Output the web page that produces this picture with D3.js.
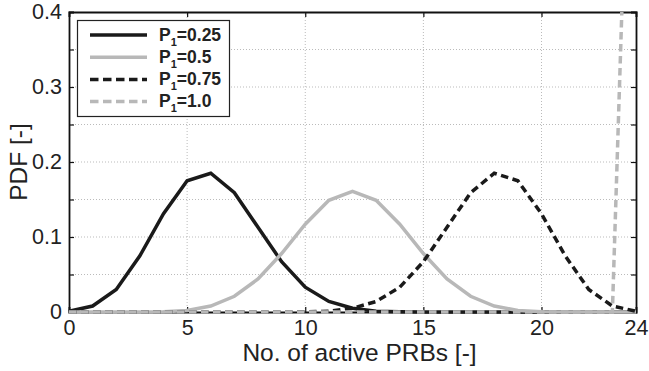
<!DOCTYPE html>
<html><head><meta charset="utf-8">
<script src="https://cdn.jsdelivr.net/npm/d3@7"></script>
<style>body{margin:0;background:#fff;} svg{display:block;}</style>
</head><body>
<script>
const kValues = d3.range(0, 25);
const pdf025 = [0.001,0.008,0.030,0.075,0.131,0.175,0.185,0.159,0.113,0.067,0.033,0.014,0.005,0.001,0.0003,0,0,0,0,0,0,0,0,0,0];
const pdf050 = [0,0,0,0,0.0004,0.002,0.008,0.021,0.044,0.078,0.117,0.149,0.161,0.149,0.117,0.078,0.044,0.021,0.008,0.002,0.0004,0,0,0,0];
const pdf075 = [0,0,0,0,0,0,0,0,0,0,0.0003,0.001,0.005,0.014,0.033,0.067,0.113,0.159,0.185,0.175,0.131,0.075,0.030,0.008,0.001];
const pdf100 = [0,0,0,0,0,0,0,0,0,0,0,0,0,0,0,0,0,0,0,0,0,0,0,0,1];
const seriesNames = ["0.25","0.5","0.75","1.0"];
const xTicks = [0,5,10,15,20,24];
const yTicks = [0,0.1,0.2,0.3,0.4];
const yGrid = [0.05,0.1,0.15,0.2,0.25,0.3,0.35];

const W=649,H=371;
const m={l:69,r:13,t:12,b:59};
const svg=d3.select("body").append("svg").attr("width",W).attr("height",H);
const x=d3.scaleLinear().domain([0,24]).range([m.l,W-m.r]);
const y=d3.scaleLinear().domain([0,0.4]).range([H-m.b,m.t]);

svg.append("defs").append("clipPath").attr("id","clip").append("rect")
  .attr("x",m.l-3).attr("y",m.t).attr("width",x(24)-m.l+6).attr("height",y(0)-m.t+4);

const grid=svg.append("g").attr("stroke","#aaa").attr("stroke-width",0.8).attr("stroke-dasharray","1,2");
[5,10,15,20].forEach(v=>grid.append("line").attr("x1",x(v)).attr("x2",x(v)).attr("y1",y(0)).attr("y2",y(0.4)));
yGrid.forEach(v=>grid.append("line").attr("x1",x(0)).attr("x2",x(24)).attr("y1",y(v)).attr("y2",y(v)));

const styles=[
 {data:pdf025,color:"#1a1a1a",dash:null},
 {data:pdf050,color:"#b8b8b8",dash:null},
 {data:pdf075,color:"#1a1a1a",dash:"7.5,4.5"},
 {data:pdf100,color:"#b8b8b8",dash:"7.5,4.5"}
];
const font="Liberation Sans, Arial, sans-serif";
// axes frame first
const xAxisB=d3.axisBottom(x).tickValues(xTicks).tickSize(-5).tickPadding(8).tickFormat(d3.format("d"));
const xAxisT=d3.axisTop(x).tickValues(xTicks).tickSize(-5).tickFormat("");
const yAll=[0,0.05,0.1,0.15,0.2,0.25,0.3,0.35,0.4];
const yAxisL=d3.axisLeft(y).tickValues(yAll).tickSize(-5).tickPadding(7)
  .tickFormat(d=>yTicks.some(t=>Math.abs(t-d)<1e-9)?(d===0?"0":d3.format(".1f")(d)):"");
const yAxisR=d3.axisRight(y).tickValues(yAll).tickSize(-5).tickFormat("");
function style(g){g.select(".domain").attr("stroke","#111").attr("stroke-width",1.8);
  g.selectAll(".tick line").attr("stroke","#111").attr("stroke-width",1.2);
  g.selectAll("text").attr("font-family",font).attr("font-size",21.5).attr("fill","#222");}
svg.append("g").attr("transform",`translate(0,${y(0)})`).call(xAxisB).call(style);
svg.append("g").attr("transform",`translate(0,${y(0.4)})`).call(xAxisT).call(style);
svg.append("g").attr("transform",`translate(${x(0)},0)`).call(yAxisL).call(style);
svg.append("g").attr("transform",`translate(${x(24)},0)`).call(yAxisR).call(style);

const line=d3.line().x((d,i)=>x(kValues[i])).y(d=>y(d));
const lg=svg.append("g").attr("clip-path","url(#clip)");
styles.forEach(s=>{
  lg.append("path").datum(s.data).attr("d",line).attr("fill","none")
    .attr("stroke",s.color).attr("stroke-width",3.5).attr("stroke-dasharray",s.dash);
});

svg.append("text").attr("x",(x(0)+x(24))/2+7).attr("y",361).attr("text-anchor","middle")
  .attr("font-family",font).attr("font-size",24.5).attr("fill","#222").text("No. of active PRBs [-]");
svg.append("text").attr("transform",`translate(27,${(y(0)+y(0.4))/2}) rotate(-90)`).attr("text-anchor","middle")
  .attr("font-family",font).attr("font-size",24.5).attr("fill","#222").text("PDF [-]");

// legend
const leg=svg.append("g");
leg.append("rect").attr("x",77.5).attr("y",20.5).attr("width",152).attr("height",96)
  .attr("fill","#fff").attr("stroke","#222").attr("stroke-width",1.2);
styles.forEach((s,i)=>{
  const yy=35+i*22.2;
  leg.append("line").attr("x1",90).attr("x2",147).attr("y1",yy).attr("y2",yy)
    .attr("stroke",s.color).attr("stroke-width",3.5).attr("stroke-dasharray",s.dash?"8.5,4.5":null);
  const t=leg.append("text").attr("x",159).attr("y",yy+5.5).attr("font-family",font)
    .attr("font-size",17.5).attr("font-weight","bold").attr("fill","#222");
  t.append("tspan").text("P");
  t.append("tspan").attr("font-size",11).attr("dy",5).text("1");
  t.append("tspan").attr("dy",-5).text("="+seriesNames[i]);
});
</script>
</body></html>
